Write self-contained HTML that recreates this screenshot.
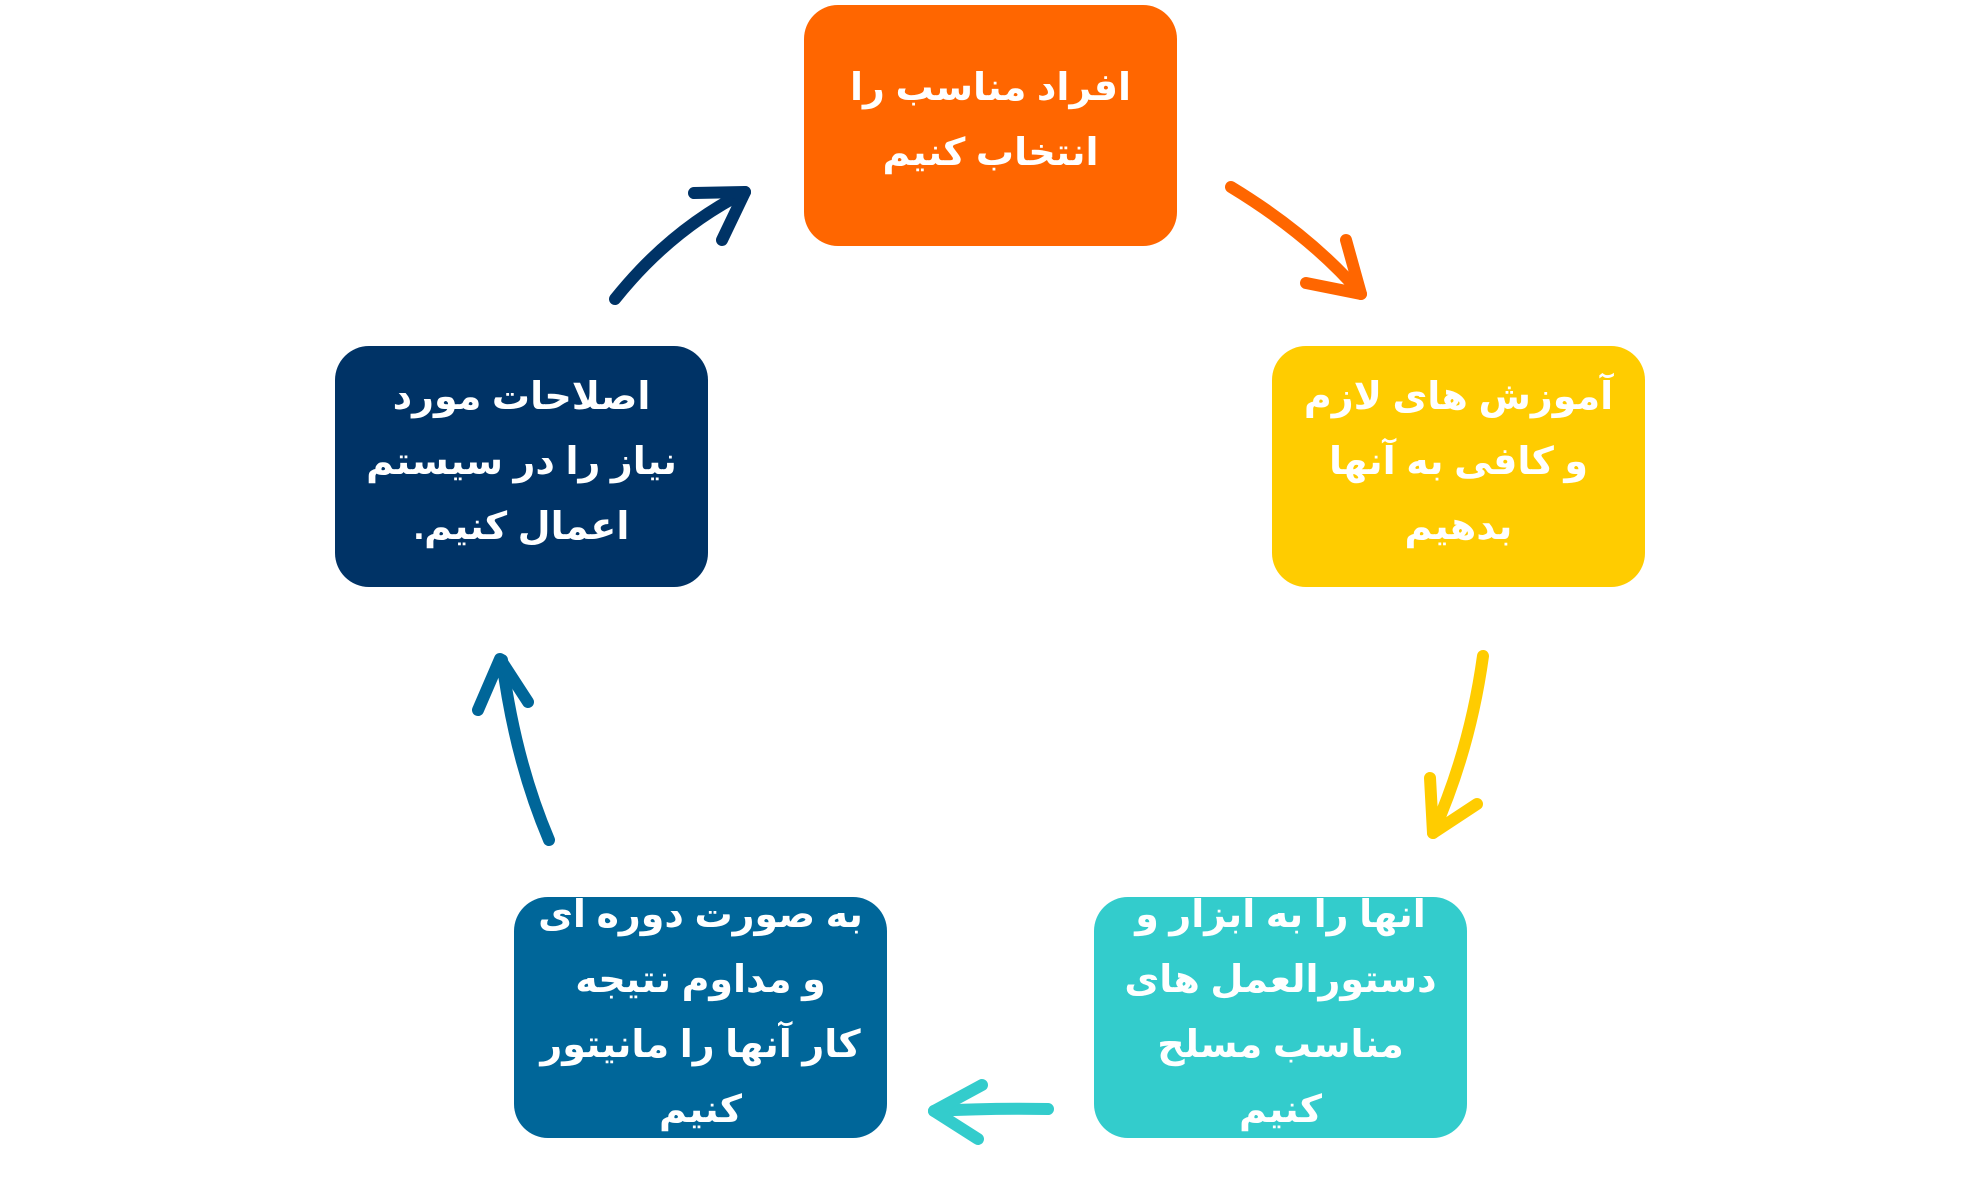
<!DOCTYPE html>
<html><head><meta charset="utf-8"><style>
html,body{margin:0;padding:0;background:#fff;}
body{width:1980px;height:1183px;position:relative;overflow:hidden;font-family:"Liberation Sans","Noto Sans CJK SC","DejaVu Sans",sans-serif;}
.b{position:absolute;width:373px;height:232px;padding-bottom:9px;border-radius:34px;display:flex;align-items:center;justify-content:center;text-align:center;color:#fff;font-weight:bold;font-size:38px;line-height:65px;direction:rtl;}
svg{position:absolute;left:0;top:0;}
</style></head><body>
<div class="b" style="left:804px;top:5px;background:#FF6600;">افراد مناسب را<br>انتخاب کنیم</div>
<div class="b" style="left:1272px;top:346px;background:#FFCC00;">آموزش های لازم<br>و کافی به آنها<br>بدهیم</div>
<div class="b" style="left:1094px;top:897px;background:#33CCCC;">آنها را به ابزار و<br>دستورالعمل های<br>مناسب مسلح<br>کنیم</div>
<div class="b" style="left:514px;top:897px;background:#006699;">به صورت دوره ای<br>و مداوم نتیجه<br>کار آنها را مانیتور<br>کنیم</div>
<div class="b" style="left:335px;top:346px;background:#003366;">اصلاحات مورد<br>نیاز را در سیستم<br>اعمال کنیم.</div>
<svg width="1980" height="1183" fill="none" stroke-width="12" stroke-linecap="round" stroke-linejoin="round">
<g stroke="#FF6600"><path d="M1231 187 Q1310 235 1361 294"/><path d="M1306 283 L1361 294 L1346 240"/></g>
<g stroke="#FFCC00"><path d="M1483 656 Q1470 750 1433 833"/><path d="M1430 778 L1433 833 L1477 804"/></g>
<g stroke="#33CCCC"><path d="M1048 1109 Q990 1108 934 1111"/><path d="M982 1085 L934 1111 L978 1139"/></g>
<g stroke="#006699"><path d="M549 840 Q515 760 502 660"/><path d="M478 710 L500 659 L528 702"/></g>
<g stroke="#003366"><path d="M615 299 Q670 230 745 192"/><path d="M694 193 L745 192 L722 240"/></g>
</svg>
</body></html>
